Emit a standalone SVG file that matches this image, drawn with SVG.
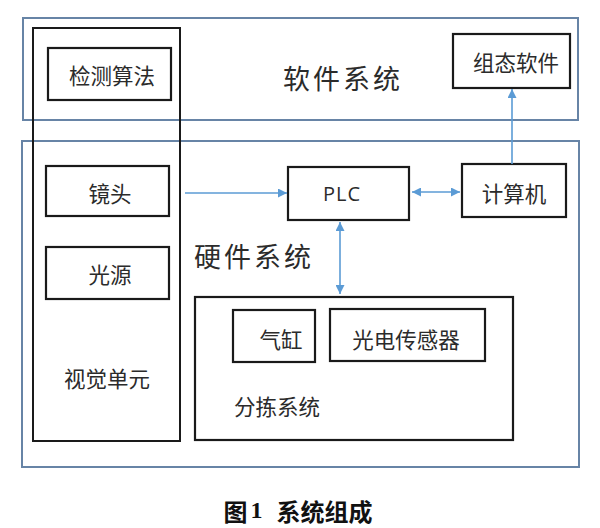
<svg xmlns="http://www.w3.org/2000/svg" width="600" height="528" viewBox="0 0 600 528">
<defs>
<style>
.outer{fill:none;stroke:#6784a6;stroke-width:2}
.box{fill:#fff;stroke:#1a1a1a;stroke-width:2.2}
.t{font-family:"Noto Sans CJK SC","Liberation Sans",sans-serif;fill:#2b2b2b;text-anchor:middle;dominant-baseline:central}
.s{font-size:21.5px}
.big{font-size:27px;letter-spacing:3px}
.conn{stroke:#5b9bd5;stroke-width:1.6;fill:none}
</style>
<marker id="ah" viewBox="0 0 10 10" refX="10" refY="5" markerWidth="9" markerHeight="9" markerUnits="userSpaceOnUse" orient="auto-start-reverse">
<path d="M0,0 L10,5 L0,10 z" fill="#5b9bd5"/>
</marker>
</defs>
<rect width="600" height="528" fill="#fff"/>
<g id="software">
<rect class="outer" x="23" y="18" width="555" height="102"/>
<text class="t big" x="343" y="77">软件系统</text>
</g>
<g id="hardware">
<rect class="outer" x="22" y="141" width="557" height="326"/>
<text class="t big" x="254" y="255">硬件系统</text>
</g>
<g id="vision">
<rect fill="none" stroke="#1a1a1a" stroke-width="2" x="33" y="28" width="147" height="413"/>
<text class="t s" x="107" y="377">视觉单元</text>
</g>
<g id="algo">
<rect class="box" x="48" y="48" width="123" height="52"/>
<text class="t s" x="112" y="74">检测算法</text>
</g>
<g id="lens">
<rect class="box" x="46" y="166" width="123" height="50"/>
<text class="t s" x="110" y="192">镜头</text>
</g>
<g id="light">
<rect class="box" x="46" y="247" width="123" height="52"/>
<text class="t s" x="110" y="273">光源</text>
</g>
<g id="plc">
<rect class="box" x="288" y="167" width="121" height="53"/>
<text class="t" x="342" y="193" style="font-family:'Open Sans','Liberation Sans',sans-serif;font-size:20px;letter-spacing:1px">PLC</text>
</g>
<g id="computer">
<rect class="box" x="462" y="164" width="104" height="53"/>
<text class="t s" x="514" y="192">计算机</text>
</g>
<g id="config">
<rect class="box" x="453" y="34" width="117" height="54"/>
<text class="t s" x="516" y="61">组态软件</text>
</g>
<g id="sorting">
<rect fill="none" stroke="#1a1a1a" stroke-width="2.2" x="195" y="297" width="318" height="143"/>
<text class="t s" x="277" y="405">分拣系统</text>
</g>
<g id="cylinder">
<rect class="box" x="233" y="310" width="82" height="52"/>
<text class="t s" x="281" y="338">气缸</text>
</g>
<g id="sensor">
<rect class="box" x="330" y="309" width="155" height="52"/>
<text class="t s" x="406" y="338">光电传感器</text>
</g>
<g id="connectors">
<line class="conn" x1="185" y1="193" x2="287" y2="193" marker-end="url(#ah)"/>
<line class="conn" x1="412" y1="192" x2="460" y2="192" marker-start="url(#ah)" marker-end="url(#ah)"/>
<line class="conn" x1="512" y1="164" x2="512" y2="89" marker-end="url(#ah)"/>
<line class="conn" x1="340" y1="222" x2="340" y2="294" marker-start="url(#ah)" marker-end="url(#ah)"/>
</g>
<g id="caption">
<text x="298" y="510" text-anchor="middle" dominant-baseline="central" style="font-family:'Noto Sans CJK SC',sans-serif;font-weight:bold;font-size:24px;fill:#111">图<tspan style="font-family:'Liberation Serif',serif" dx="3">1</tspan><tspan dx="14">系统组成</tspan></text>
</g>
</svg>
